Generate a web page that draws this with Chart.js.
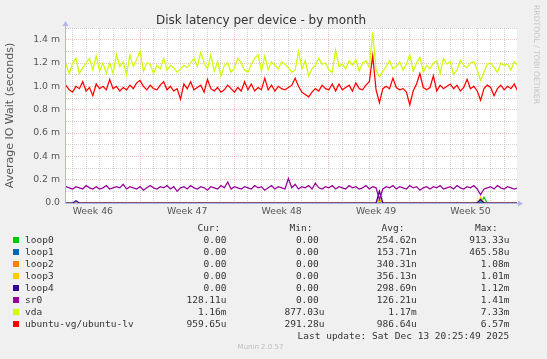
<!DOCTYPE html>
<html>
<head>
<meta charset="utf-8">
<script src="https://cdn.jsdelivr.net/npm/chart.js@4.4.1/dist/chart.umd.min.js"></script>
<style>
html,body{margin:0;padding:0;background:#f0f0f0;}
#wrap{position:relative;width:547px;height:359px;overflow:hidden;background:#f0f0f0;}
#c{position:absolute;left:0;top:0;}
.abs{position:absolute;white-space:pre;}
.title{left:0;width:522px;text-align:center;top:13px;font-family:"DejaVu Sans";font-size:12px;line-height:14px;color:#333;}
.mono{font-family:"DejaVu Sans Mono";font-size:9.5px;line-height:12px;color:#333;}
.sw{position:absolute;width:6px;height:6px;}
.wm{left:541px;top:5px;transform:rotate(90deg);transform-origin:0 0;font-family:"DejaVu Sans";font-size:7.7px;line-height:9px;color:#c4c4c4;}
.munin{left:200px;width:121px;text-align:center;top:343px;font-family:"DejaVu Sans";font-size:7px;line-height:9px;color:#bdbdbd;}
</style>
</head>
<body>
<div id="wrap">
<canvas id="c" width="547" height="359"></canvas>
<div class="abs title">Disk latency per device - by month</div>
<div class="abs wm">RRDTOOL / TOBI OETIKER</div>
<div class="abs munin">Munin 2.0.57</div>
<div id="legend"></div>
</div>
<script>
// ---- time axis (days relative to Mon Nov 17 2025 00:00) ----
const X_MIN = -5.49, X_MAX = 27.95, X_START = -5.5, X_STEP = 0.25;
const weekCenters = [-3.5, 3.5, 10.5, 17.5, 24.5];
const weekLabels = ['Week 46', 'Week 47', 'Week 48', 'Week 49', 'Week 50'];
const dayLines = [-5,-4,-3,-2,-1,0,1,2,3,4,5,6,7,8,9,10,11,12,13,14,15,16,17,18,19,20,21,22,23,24,25,26,27];
// ---- y axis (milliseconds) ----
const yTickValues = [0,0.1,0.2,0.3,0.4,0.5,0.6,0.7,0.8,0.9,1.0,1.1,1.2,1.3,1.4,1.5];
const yTickLabels = ['0.0','','0.2 m','','0.4 m','','0.6 m','','0.8 m','','1.0 m','','1.2 m','','1.4 m',''];

// ---- series (ms), one value per 6h ----
const loop0 = [
0,0,0,0,0,0,0,0,0,0,0,0,0,0,0,0,0,0,0,0,0,0,0,0,0,0,0,
0,0,0,0,0,0,0,0,0,0,0,0,0,0,0,0,0,0,0,0,0,0,0,0,0,0,0,
0,0,0,0,0,0,0,0,0,0,0,0,0,0,0,0,0,0,0,0,0,0,0,0,0,0,0,
0,0,0,0,0,0,0,0,0,0,0,0,0,0,0,0,0,0,0,0,0,0,0,0,0,0,0,
0,0,0,0,0,0,0,0,0,0,0,0,0,0,0,0,0.05,0,0,0,0,0,0,0,0,0,0];
const loop1 = [
0,0,0,0,0,0,0,0,0,0,0,0,0,0,0,0,0,0,0,0,0,0,0,0,0,0,0,
0,0,0,0,0,0,0,0,0,0,0,0,0,0,0,0,0,0,0,0,0,0,0,0,0,0,0,
0,0,0,0,0,0,0,0,0,0,0,0,0,0,0,0,0,0,0,0,0,0,0,0,0,0,0,
0,0,0,0,0,0,0,0,0,0,0,0,0,0,0,0,0,0,0,0,0,0,0,0,0,0,0,
0,0,0,0,0,0,0,0,0,0,0,0,0,0,0,0.01,0,0,0,0,0,0,0,0,0,0,0];
const loop2 = [
0,0,0,0,0,0,0,0,0,0,0,0,0,0,0,0,0,0,0,0,0,0,0,0,0,0,0,
0,0,0,0,0,0,0,0,0,0,0,0,0,0,0,0,0,0,0,0,0,0,0,0,0,0,0,
0,0,0,0,0,0,0,0,0,0,0,0,0,0,0,0,0,0,0,0,0,0,0,0,0,0,0,
0,0,0,0,0,0,0,0,0,0,0,0,0.03,0,0,0,0,0,0,0,0,0,0,0,0,0,0,
0,0,0,0,0,0,0,0,0,0,0,0,0,0,0,0.03,0,0,0,0,0,0,0,0,0,0,0];
const loop3 = [
0,0,0,0,0,0,0,0,0,0,0,0,0,0,0,0,0,0,0,0,0,0,0,0,0,0,0,
0,0,0,0,0,0,0,0,0,0,0,0,0,0,0,0,0,0,0,0,0,0,0,0,0,0,0,
0,0,0,0,0,0,0,0,0,0,0,0,0,0,0,0,0,0,0,0,0,0,0,0,0,0,0,
0,0,0,0,0,0,0,0,0,0,0,0,0.02,0,0,0,0,0,0,0,0,0,0,0,0,0,0,
0,0,0,0,0,0,0,0,0,0,0,0,0,0,0,0.05,0,0,0,0,0,0,0,0,0,0,0];
const loop4 = [
0,0,0,0.02,0,0,0,0,0,0,0,0,0,0,0,0,0,0,0,0,0,0,0,0,0,0,0,
0,0,0,0,0,0,0,0,0,0,0,0,0,0,0,0,0,0,0,0,0,0,0,0,0,0,0,
0,0,0,0,0,0,0,0,0,0,0,0,0,0,0,0,0,0,0,0,0,0,0,0,0,0,0,
0,0,0,0,0,0,0,0,0,0,0,0,0.10,0,0,0,0,0,0,0,0,0,0,0,0,0,0,
0,0,0,0,0,0,0,0,0,0,0,0,0,0,0,0.03,0,0,0,0,0,0,0,0,0,0,0];
const sr0 = [
0.14,0.13,0.12,0.14,0.13,0.12,0.15,0.13,0.12,0.14,0.12,0.13,0.15,0.12,0.13,0.14,0.13,0.16,0.12,0.14,0.13,0.12,0.14,0.11,0.13,0.15,0.13,
0.12,0.14,0.13,0.15,0.12,0.14,0.10,0.13,0.14,0.12,0.15,0.13,0.12,0.14,0.13,0.11,0.14,0.13,0.12,0.15,0.13,0.18,0.12,0.14,0.13,0.12,0.14,
0.13,0.12,0.15,0.13,0.14,0.11,0.13,0.15,0.12,0.14,0.13,0.12,0.21,0.13,0.16,0.12,0.14,0.13,0.15,0.12,0.17,0.13,0.12,0.14,0.13,0.15,0.12,
0.14,0.13,0.12,0.15,0.13,0.14,0.12,0.13,0.15,0.12,0.14,0.13,0.03,0.12,0.14,0.13,0.15,0.12,0.14,0.13,0.12,0.15,0.13,0.14,0.11,0.13,0.14,
0.12,0.14,0.13,0.15,0.12,0.13,0.14,0.12,0.15,0.13,0.12,0.14,0.13,0.15,0.12,0.07,0.12,0.13,0.14,0.12,0.15,0.13,0.12,0.14,0.13,0.12,0.13];
const vda = [
1.19,1.11,1.20,1.24,1.11,1.16,1.20,1.24,1.14,1.26,1.13,1.20,1.11,1.20,1.11,1.27,1.17,1.21,1.10,1.27,1.17,1.23,1.30,1.13,1.20,1.19,1.11,
1.18,1.15,1.24,1.14,1.18,1.16,1.12,1.15,1.18,1.16,1.20,1.24,1.17,1.29,1.20,1.15,1.27,1.13,1.21,1.09,1.18,1.20,1.12,1.16,1.24,1.20,1.14,
1.12,1.19,1.24,1.27,1.13,1.26,1.14,1.21,1.18,1.15,1.21,1.19,1.16,1.12,1.14,1.30,1.15,1.22,1.09,1.15,1.18,1.24,1.19,1.20,1.14,1.12,1.31,
1.17,1.19,1.15,1.22,1.18,1.23,1.13,1.20,1.22,1.16,1.46,1.14,1.08,1.13,1.17,1.22,1.15,1.17,1.21,1.14,1.19,1.27,1.13,1.20,1.25,1.12,1.18,
1.15,1.20,1.22,1.11,1.24,1.19,1.21,1.10,1.14,1.22,1.18,1.16,1.20,1.21,1.14,1.05,1.12,1.19,1.20,1.16,1.12,1.20,1.18,1.19,1.14,1.21,1.18];
const ubuntuLv = [
1.01,0.97,0.95,1.00,0.98,1.04,0.96,0.99,0.92,1.02,0.98,1.00,0.97,1.06,0.98,1.00,0.96,0.99,0.97,1.01,0.98,1.03,1.05,1.00,0.97,1.01,0.98,
0.97,1.01,1.04,0.97,1.00,0.96,0.98,0.89,1.02,0.98,1.04,0.97,0.99,1.01,0.95,1.06,0.98,0.96,0.99,0.95,0.97,1.01,0.98,0.95,0.99,0.96,1.04,
0.97,1.02,0.96,0.99,0.97,1.07,0.97,1.01,0.96,1.00,0.98,0.97,0.99,1.01,1.07,1.00,0.95,0.93,0.91,0.95,0.98,0.96,1.01,0.98,0.97,1.02,0.96,
1.02,0.97,0.99,1.01,0.96,1.03,0.98,0.97,1.01,1.04,1.26,0.97,0.86,0.98,1.00,0.98,1.07,0.99,0.97,0.98,0.95,0.84,0.96,1.02,1.11,0.99,0.97,
0.99,1.09,0.96,1.01,0.98,1.00,1.02,0.98,1.01,0.96,0.99,1.06,0.98,1.00,0.96,0.88,0.98,1.01,0.99,0.92,0.98,1.01,0.97,1.00,0.98,1.02,0.96];

const seriesNames = ['loop0','loop1','loop2','loop3','loop4','sr0','vda','ubuntu-vg/ubuntu-lv'];
const seriesValues = [loop0, loop1, loop2, loop3, loop4, sr0, vda, ubuntuLv];
const seriesColors = ['#00cc00','#0066b3','#ff8000','#ffcc00','#330099','#990099','#ccff00','#ff0000'];
const legendCur = ['0.00','0.00','0.00','0.00','0.00','128.11u','1.16m','959.65u'];
const legendMin = ['0.00 ','0.00 ','0.00 ','0.00 ','0.00 ','0.00 ','877.03u','291.28u'];
const legendAvg = ['254.62n','153.71n','340.31n','356.13n','298.69n','126.21u','1.17m','986.64u'];
const legendMax = ['913.33u','465.58u','1.08m','1.01m','1.12m','1.41m','7.33m','6.57m'];
const lastUpdate = 'Last update: Sat Dec 13 20:25:49 2025';

const toPoints = arr => arr.map((v, i) => ({x: X_START + i * X_STEP, y: v}));

const datasets = seriesNames.map((n, i) => ({
  label: n,
  data: toPoints(seriesValues[i]),
  borderColor: seriesColors[i],
  backgroundColor: seriesColors[i],
  borderWidth: 1.25,
  pointRadius: 0,
  fill: false,
  tension: 0,
  order: seriesNames.length - i
}));

const decor = {
  id: 'decor',
  beforeDraw(chart) {
    const {ctx, chartArea: a} = chart;
    ctx.save();
    ctx.fillStyle = '#ffffff';
    ctx.fillRect(a.left, a.top, a.right - a.left, a.bottom - a.top);
    ctx.restore();
  },
  beforeDatasetsDraw(chart) {
    const {ctx, chartArea: a} = chart;
    ctx.save();
    ctx.strokeStyle = '#b4b4f2';
    ctx.fillStyle = '#b4b4f2';
    ctx.lineWidth = 1;
    const lx = Math.round(a.left) - 0.5, by = Math.round(a.bottom) + 0.5;
    ctx.beginPath(); ctx.moveTo(lx, by); ctx.lineTo(lx, a.top - 3); ctx.stroke();
    ctx.beginPath(); ctx.moveTo(lx, by); ctx.lineTo(a.right + 3, by); ctx.stroke();
    ctx.beginPath(); ctx.moveTo(lx - 3, a.top - 2); ctx.lineTo(lx + 3, a.top - 2); ctx.lineTo(lx, a.top - 7); ctx.closePath(); ctx.fill();
    ctx.beginPath(); ctx.moveTo(a.right + 1, by - 3); ctx.lineTo(a.right + 1, by + 3); ctx.lineTo(a.right + 6, by); ctx.closePath(); ctx.fill();
    ctx.restore();
  }
};

const MINOR = 'rgba(160,160,160,0.45)';
const MAJOR = 'rgba(225,120,120,0.45)';

new Chart(document.getElementById('c'), {
  type: 'line',
  data: { datasets },
  plugins: [decor],
  options: {
    responsive: false,
    animation: false,
    devicePixelRatio: 1,
    layout: { padding: { left: 0, top: 28, right: 30, bottom: 136 } },
    plugins: { legend: { display: false }, tooltip: { enabled: false }, title: { display: false } },
    scales: {
      x: {
        type: 'linear', min: X_MIN, max: X_MAX,
        afterBuildTicks: s => {
          s.ticks = dayLines.concat(weekCenters).sort((a, b) => a - b).map(v => ({value: v}));
        },
        afterFit: s => { s.height = 20; },
        ticks: {
          autoSkip: false, maxRotation: 0, minRotation: 0, padding: 3,
          color: '#555', font: { family: 'DejaVu Sans', size: 9.3 },
          callback: v => { const k = weekCenters.indexOf(v); return k >= 0 ? weekLabels[k] : ''; }
        },
        grid: {
          drawTicks: false, lineWidth: 1,
          color: c => {
            const v = c.tick ? c.tick.value : 0;
            if (weekCenters.indexOf(v) >= 0) return 'rgba(0,0,0,0)';
            return (((v % 7) + 7) % 7 === 0) ? MAJOR : MINOR;
          }
        },
        border: { display: false, dash: [1, 1] }
      },
      y: {
        min: 0, max: 1.5,
        afterBuildTicks: s => { s.ticks = yTickValues.map(v => ({value: v})); },
        afterFit: s => { s.width = 66; },
        ticks: {
          autoSkip: false, padding: 6, color: '#555', font: { family: 'DejaVu Sans', size: 9.3 },
          callback: (v, i) => yTickLabels[i]
        },
        grid: {
          drawTicks: false, lineWidth: 1,
          color: c => (c.index % 2 === 0) ? MAJOR : MINOR
        },
        border: { display: false, dash: [1, 1] },
        title: { display: true, text: 'Average IO Wait (seconds)', color: '#555',
                 font: { family: 'DejaVu Sans', size: 11 }, padding: 4 }
      }
    }
  }
});

// ---- legend (text table under the chart) ----
const L = document.getElementById('legend');
function addText(txt, baseline, opts) {
  const d = document.createElement('div');
  d.className = 'abs mono';
  d.textContent = txt;
  d.style.top = (baseline - 9.3) + 'px';
  if (opts.left !== undefined) d.style.left = opts.left + 'px';
  if (opts.right !== undefined) d.style.right = (547 - opts.right) + 'px';
  L.appendChild(d);
}
addText('Cur:', 231, {right: 220.3});
addText('Min:', 231, {right: 312.5});
addText('Avg:', 231, {right: 404.5});
addText('Max:', 231, {right: 497.8});
seriesNames.forEach((n, i) => {
  const b = 243 + 12 * i;
  const sw = document.createElement('div');
  sw.className = 'sw';
  sw.style.left = '13px';
  sw.style.top = (b - 6.5) + 'px';
  sw.style.background = seriesColors[i];
  L.appendChild(sw);
  addText(n, b, {left: 25});
  addText(legendCur[i], b, {right: 226.5});
  addText(legendMin[i], b, {right: 324.5});
  addText(legendAvg[i], b, {right: 416.8});
  addText(legendMax[i], b, {right: 509.4});
});
addText(lastUpdate, 339, {right: 509.2});
</script>
</body>
</html>
